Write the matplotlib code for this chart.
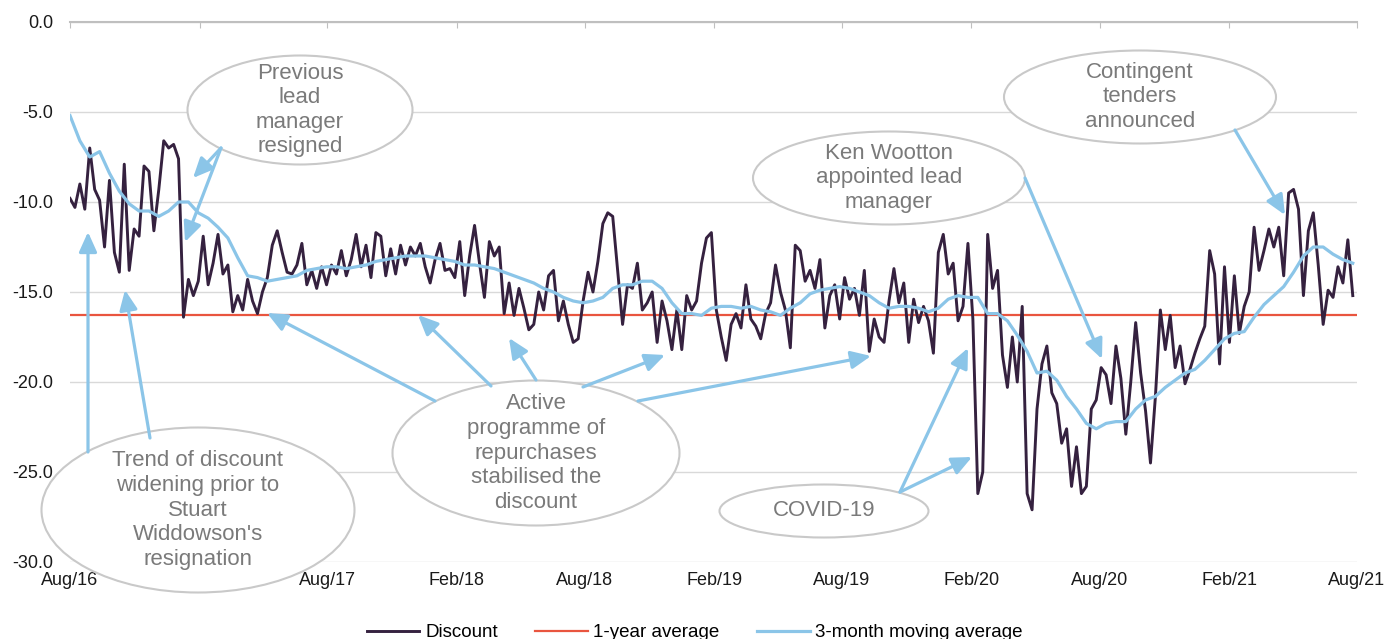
import pandas as pd
import matplotlib
matplotlib.use("Agg")
import matplotlib.pyplot as plt
import matplotlib.dates as mdates
from matplotlib.patches import Ellipse, FancyArrowPatch, ArrowStyle
from matplotlib.transforms import Affine2D

plt.rcParams['font.family'] = ['Liberation Sans', 'DejaVu Sans']

W, H = 1384, 639

# --- data (weekly discount, fortnightly moving average, % ) ---
discount_start = "2016-08-01"
discount = [
    -9.8, -10.3, -9.0, -10.4, -7.0, -9.3, -9.9, -12.5, -8.8, -12.8,
    -13.9, -7.9, -13.8, -11.5, -11.9, -8.0, -8.3, -11.6, -9.3, -6.6,
    -7.0, -6.8, -7.6, -16.4, -14.3, -15.2, -14.4, -11.9, -14.6, -13.4,
    -11.8, -14.0, -13.5, -16.1, -15.2, -16.0, -14.3, -15.5, -16.2, -15.0,
    -14.2, -12.4, -11.6, -12.8, -13.9, -14.0, -13.5, -12.3, -14.6, -13.8,
    -14.8, -13.6, -14.6, -13.5, -14.0, -12.7, -14.1, -13.2, -11.8, -13.6,
    -12.4, -14.2, -11.7, -11.9, -14.1, -12.6, -14.0, -12.4, -13.5, -12.5,
    -13.0, -12.3, -13.6, -14.5, -13.2, -12.3, -13.8, -13.7, -14.2, -12.2,
    -15.2, -13.0, -11.3, -13.4, -15.3, -12.2, -13.0, -12.5, -16.2, -14.5,
    -16.3, -14.8, -15.9, -17.1, -16.8, -15.0, -16.0, -14.1, -13.8, -16.6,
    -15.5, -16.8, -17.8, -17.6, -15.5, -13.9, -15.0, -13.3, -11.2, -10.6,
    -10.8, -13.8, -16.8, -14.6, -14.8, -13.4, -16.0, -15.6, -15.0, -17.8,
    -15.5, -16.6, -18.2, -16.0, -18.2, -15.2, -16.0, -15.5, -13.4, -12.0,
    -11.7, -16.0, -17.5, -18.8, -16.8, -16.2, -17.0, -14.6, -16.5, -16.9,
    -17.6, -16.2, -15.6, -13.5, -15.0, -16.0, -18.1, -12.4, -12.7, -14.4,
    -13.8, -14.8, -13.2, -17.0, -15.2, -14.6, -16.5, -14.2, -15.4, -14.8,
    -16.3, -13.8, -18.3, -16.5, -17.5, -17.8, -15.5, -13.7, -15.6, -14.5,
    -17.8, -15.4, -16.7, -15.8, -16.6, -18.4, -12.8, -11.8, -14.0, -13.4,
    -16.6, -15.8, -12.3, -16.5, -26.2, -25.0, -11.8, -14.8, -13.8, -18.5,
    -20.3, -17.5, -20.0, -15.8, -26.2, -27.1, -21.5, -19.0, -18.0, -20.6,
    -21.2, -23.4, -22.6, -25.8, -23.6, -26.2, -25.8, -21.5, -21.0, -19.2,
    -19.6, -21.2, -18.0, -19.8, -22.9, -20.0, -16.7, -19.5, -21.6, -24.5,
    -20.8, -16.0, -18.2, -16.3, -19.2, -18.0, -20.1, -19.3, -18.4, -17.6,
    -16.9, -12.7, -14.0, -19.0, -13.6, -17.8, -14.1, -17.3, -15.8, -15.0,
    -11.4, -13.8, -12.7, -11.5, -12.5, -11.4, -14.1, -9.5, -9.3, -10.4,
    -15.2, -11.6, -10.6, -13.5, -16.8, -14.9, -15.3, -13.6, -14.5, -12.1,
    -15.2,
]
moving_avg = [
    -5.2, -6.6, -7.5, -7.2, -8.4, -9.4, -10.1, -10.5, -10.5, -10.8,
    -10.5, -10.0, -10.0, -10.6, -10.9, -11.4, -12.0, -13.1, -14.1, -14.2,
    -14.4, -14.3, -14.2, -14.1, -13.8, -13.7, -13.6, -13.6, -13.7, -13.6,
    -13.5, -13.3, -13.2, -13.1, -13.0, -13.0, -13.0, -13.1, -13.2, -13.3,
    -13.5, -13.5, -13.6, -13.7, -13.9, -14.1, -14.3, -14.5, -14.8, -15.0,
    -15.3, -15.5, -15.6, -15.5, -15.3, -14.8, -14.6, -14.6, -14.4, -14.4,
    -14.8, -15.6, -16.2, -16.2, -16.3, -15.9, -15.8, -15.8, -15.9, -15.8,
    -16.0, -16.1, -16.3, -15.9, -15.6, -15.1, -14.9, -14.8, -14.7, -14.8,
    -15.0, -15.2, -15.6, -15.9, -15.8, -15.8, -15.9, -16.1, -15.9, -15.4,
    -15.2, -15.3, -15.3, -16.2, -16.2, -16.6, -17.4, -18.3, -19.5, -19.4,
    -19.9, -20.8, -21.5, -22.3, -22.6, -22.3, -22.2, -22.2, -21.5, -21.0,
    -20.8, -20.3, -19.9, -19.5, -19.3, -18.8, -18.2, -17.6, -17.3, -17.2,
    -16.4, -15.7, -15.2, -14.7, -13.9, -13.0, -12.5, -12.5, -12.9, -13.2,
    -13.4,
]
one_year_avg = -16.3

disc_dates = pd.date_range(discount_start, periods=len(discount), freq="7D")
ma_dates = pd.date_range(discount_start, periods=len(moving_avg), freq="14D")
x_start, x_end = pd.Timestamp("2016-08-01"), pd.Timestamp("2021-08-01")

# annotations: text, ellipse centre/size in pixels (top-left origin), arrows (tail, head)
notes = [
    ("Previous\nlead\nmanager\nresigned", (300, 110), (225, 109),
     [((221, 148), (193, 178)), ((221, 148), (185, 242))]),
    ("Trend of discount\nwidening prior to\nStuart\nWiddowson's\nresignation", (198, 510), (313, 165),
     [((88, 452), (88, 232)), ((150, 438), (125, 290))]),
    ("Active\nprogramme of\nrepurchases\nstabilised the\ndiscount", (536, 453), (287, 145),
     [((435, 401), (267, 313)), ((491, 386), (418, 315)), ((536, 380), (509, 338)),
      ((583, 387), (665, 355)), ((638, 401), (871, 356))]),
    ("COVID-19", (824, 511), (209, 53),
     [((900, 492), (968, 348)), ((900, 492), (972, 457))]),
    ("Ken Wootton\nappointed lead\nmanager", (889, 178), (272, 93),
     [((1025, 178), (1102, 359))]),
    ("Contingent\ntenders\nannounced", (1140, 97), (272, 93),
     [((1235, 130), (1285, 215))]),
]

fig = plt.figure(figsize=(W / 100, H / 100), dpi=100)
ax = fig.add_axes([70 / W, 1 - 562 / H, 1287 / W, 540 / H])

ax.plot(disc_dates, discount, color="#35213f", lw=2.1, label="Discount", zorder=3)
ax.axhline(one_year_avg, color="#e9553f", lw=1.6, label="1-year average", zorder=2)
ax.plot(ma_dates, moving_avg, color="#8bc5e8", lw=2.3, label="3-month moving average", zorder=4)

ax.set_xlim(x_start, x_end)
ax.set_ylim(-30, 0)
ax.set_yticks(range(-30, 1, 5))
ax.yaxis.set_major_formatter(matplotlib.ticker.FormatStrFormatter("%.1f"))
ax.xaxis.set_major_locator(mdates.MonthLocator(bymonth=[2, 8]))
ax.xaxis.set_major_formatter(mdates.DateFormatter("%b/%y"))

ax.grid(axis="y", color="#d9d9d9", lw=1)
ax.set_axisbelow(True)
for s in ["left", "right", "bottom"]:
    ax.spines[s].set_visible(False)
ax.spines["top"].set_color("#bfbfbf")
ax.spines["top"].set_linewidth(1.5)
ax.tick_params(axis="y", length=0, pad=12, labelsize=13, labelcolor="#1a1a1a")
ax.tick_params(axis="x", top=True, bottom=False, labeltop=False, labelbottom=True,
               direction="in", length=4, color="#bfbfbf", pad=7, labelsize=13, labelcolor="#1a1a1a")

# pixel transform with origin at top left
px = Affine2D().scale(1 / W, -1 / H).translate(0, 1) + fig.transFigure
arrow_style = ArrowStyle("-|>", head_length=0.6, head_width=0.27)

for text, (cx, cy), (ew, eh), arrows in notes:
    fig.add_artist(Ellipse((cx, cy), ew, eh, transform=px, facecolor="white",
                           edgecolor="#c9c9c9", lw=1.5, zorder=5))
    fig.text(cx / W, 1 - cy / H, text, ha="center", va="center", fontsize=16,
             color="#7a7a7a", linespacing=1.22, zorder=7)
    for tail, head in arrows:
        fig.add_artist(FancyArrowPatch(tail, head, transform=px, arrowstyle=arrow_style,
                                       mutation_scale=20, color="#8bc5e8", lw=2.3,
                                       shrinkA=0, shrinkB=0, zorder=6))

fig.legend(loc="center", bbox_to_anchor=(0.502, 0.010), ncol=3, frameon=False,
           fontsize=13.5, handlelength=2.8, handletextpad=0.3, columnspacing=2.0)

fig.savefig("out.png", dpi=100)
